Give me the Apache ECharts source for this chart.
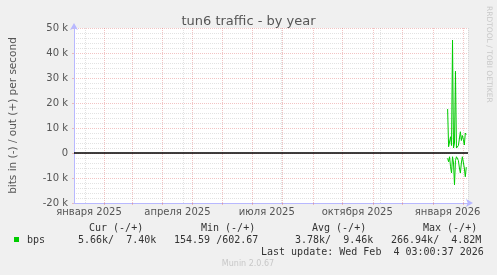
<!DOCTYPE html>
<html><head><meta charset="utf-8">
<style>html,body{margin:0;padding:0;background:#f0f0f0;}#c{width:497px;height:275px;}</style>
<script src="https://cdn.jsdelivr.net/npm/echarts@6/dist/echarts.min.js"></script>
</head><body><div id="c"></div>
<script>
// ---- data ----
var title = 'tun6 traffic - by year';
var yAxisName = 'bits in (-) / out (+) per second';
var dates = ['2026-01-16','2026-01-17','2026-01-18','2026-01-19','2026-01-20','2026-01-21','2026-01-22','2026-01-23','2026-01-24','2026-01-25','2026-01-26','2026-01-27','2026-01-28','2026-01-29','2026-01-30','2026-01-31','2026-02-01','2026-02-02','2026-02-03','2026-02-04'];
var bpsOut = [17600, 2500, 3000, 6500, 3000, 45200, 2000, 4000, 32700, 2000, 1500, 3000, 2500, 8500, 5000, 7000, 5500, 3200, 8000, 7400];
var bpsIn  = [2100, 3500, 1500, 5500, 8000, 1500, 4000, 12700, 3000, 1500, 1000, 3000, 6000, 8000, 4000, 1500, 1000, 6000, 9500, 5660];
var xLabelDates = ['2025-01-16','2025-04-16','2025-07-16','2025-10-16','2026-01-16'];
var xLabels = ['января 2025','апреля 2025','июля 2025','октября 2025','января 2026'];
var monthStarts = ['2025-02-01','2025-03-01','2025-04-01','2025-05-01','2025-06-01','2025-07-01','2025-08-01','2025-09-01','2025-10-01','2025-11-01','2025-12-01','2026-01-01','2026-02-01'];
var weekLines = ['2025-01-13','2025-01-27','2025-02-10','2025-02-24','2025-03-10','2025-03-24','2025-04-07','2025-04-21','2025-05-05','2025-05-19','2025-06-02','2025-06-16','2025-06-30','2025-07-14','2025-07-28','2025-08-11','2025-08-25','2025-09-08','2025-09-22','2025-10-06','2025-10-20','2025-11-03','2025-11-17','2025-12-01','2025-12-15','2025-12-29','2026-01-12','2026-01-26'];
var xMin = '2024-12-31T18:00:00', xMax = '2026-02-05T18:00:00';
var yTicks = [-20000, 50000, 10000];
var legendHead = ['Cur (-/+)', 'Min (-/+)', 'Avg (-/+)', 'Max (-/+)'];
var legendName = 'bps';
var legendVals = ['5.66k/  7.40k', '154.59 /602.67', '3.78k/  9.46k', '266.94k/  4.82M'];
var lastUpdate = 'Last update: Wed Feb  4 03:00:37 2026';
var footer = 'Munin 2.0.67';
var sideText = 'RRDTOOL / TOBI OETIKER';

// x values in days since the Unix epoch (UTC)
function day(s){ return Date.parse((s.length === 10 ? s + 'T00:00:00' : s) + 'Z') / 86400000; }
var green = '#00cc00';
var majorGrid = 'rgba(220,100,100,0.38)';
var minorGrid = 'rgba(150,150,150,0.28)';
var outData = dates.map(function(d, i){ return [day(d), bpsOut[i]]; });
var inData = dates.map(function(d, i){ return [day(d), -bpsIn[i]]; });
var labelMap = {};
xLabelDates.forEach(function(d, i){ labelMap[day(d)] = xLabels[i]; });

var txtColor = '#333';
function t(x, y, s){
  return { type: 'text', x: x, y: y, silent: true,
    style: { text: s, font: '10px "DejaVu Sans Mono"', fill: txtColor, textVerticalAlign: 'middle' } };
}

var chart = echarts.init(document.getElementById('c'), null, {renderer: 'canvas'});
chart.setOption({
  animation: false,
  backgroundColor: '#f0f0f0',
  title: { text: title, left: 'center', top: 10, textStyle: { fontFamily: 'DejaVu Sans', fontSize: 13, fontWeight: 'normal', color: '#555' } },
  grid: { left: 67, right: 29, top: 28, bottom: 72, show: true, backgroundColor: '#ffffff', borderWidth: 0 },
  xAxis: [{
    type: 'value', min: day(xMin), max: day(xMax),
    axisLine: { show: true, onZero: false, lineStyle: { color: '#b8b8ff', width: 1 }, symbol: ['none', 'arrow'], symbolSize: [6, 7], symbolOffset: [0, 5] },
    axisTick: { show: true, customValues: monthStarts.map(day), length: 2, lineStyle: { color: majorGrid } },
    axisLabel: { customValues: xLabelDates.map(day), formatter: function(v){ return labelMap[v] || ''; }, fontFamily: 'DejaVu Sans', fontSize: 10, color: '#555', margin: 4, showMinLabel: true, showMaxLabel: true, hideOverlap: false },
    splitLine: { show: true, customValues: monthStarts.map(day), lineStyle: { color: majorGrid, type: [1, 1], width: 1 } },
    z: 3
  }, {
    type: 'value', min: day(xMin), max: day(xMax), position: 'bottom',
    axisLine: { show: false, onZero: false }, axisTick: { show: false }, axisLabel: { show: false },
    splitLine: { show: true, customValues: weekLines.map(day), lineStyle: { color: minorGrid, type: [1, 1], width: 1 } }
  }],
  yAxis: {
    type: 'value', min: yTicks[0], max: yTicks[1], interval: yTicks[2],
    name: yAxisName, nameLocation: 'middle', nameGap: 55,
    nameTextStyle: { fontFamily: 'DejaVu Sans', fontSize: 10.5, color: '#555' },
    axisLine: { show: true, onZero: false, lineStyle: { color: '#b8b8ff', width: 1 }, symbol: ['none', 'arrow'], symbolSize: [6, 7], symbolOffset: [0, 5] },
    axisTick: { show: true, length: 2, lineStyle: { color: majorGrid } },
    axisLabel: { formatter: function(v){ return v === 0 ? '0' : (v / 1000) + ' k'; }, fontFamily: 'DejaVu Sans', fontSize: 10, color: '#555', margin: 6 },
    splitLine: { show: true, lineStyle: { color: majorGrid, type: [1, 1], width: 1 } },
    minorTick: { show: false, splitNumber: 5 },
    minorSplitLine: { show: true, lineStyle: { color: minorGrid, type: [1, 1], width: 1 } }
  },
  series: [{
    name: 'out', type: 'line', data: outData, showSymbol: false, symbol: 'none',
    lineStyle: { color: green, width: 1 }, itemStyle: { color: green }, z: 5,
    markLine: { silent: true, symbol: 'none', label: { show: false }, lineStyle: { color: '#000', width: 1.5, type: 'solid' }, data: [{ yAxis: 0 }] }
  }, {
    name: 'in', type: 'line', data: inData, showSymbol: false, symbol: 'none',
    lineStyle: { color: green, width: 1 }, itemStyle: { color: green }, z: 5
  }],
  graphic: [
    { type: 'rect', shape: { x: 14, y: 237, width: 5, height: 5 }, style: { fill: green }, silent: true },
    t(89, 228, legendHead[0]),
    t(201, 228, legendHead[1]),
    t(312, 228, legendHead[2]),
    t(423, 228, legendHead[3]),
    t(27, 240, legendName),
    t(78, 240, legendVals[0]),
    t(174, 240, legendVals[1]),
    t(295, 240, legendVals[2]),
    t(391, 240, legendVals[3]),
    t(261, 252, lastUpdate),
    { type: 'text', x: 248, y: 264, silent: true, style: { text: footer, font: '8px "DejaVu Sans"', fill: '#c8c8c8', textAlign: 'center', textVerticalAlign: 'middle' } },
    { type: 'text', x: 489, y: 6, rotation: -Math.PI / 2, silent: true, style: { text: sideText, font: '7.5px "DejaVu Sans"', fill: '#c8c8c8', textAlign: 'left', textVerticalAlign: 'middle' } }
  ]
});
</script></body></html>
